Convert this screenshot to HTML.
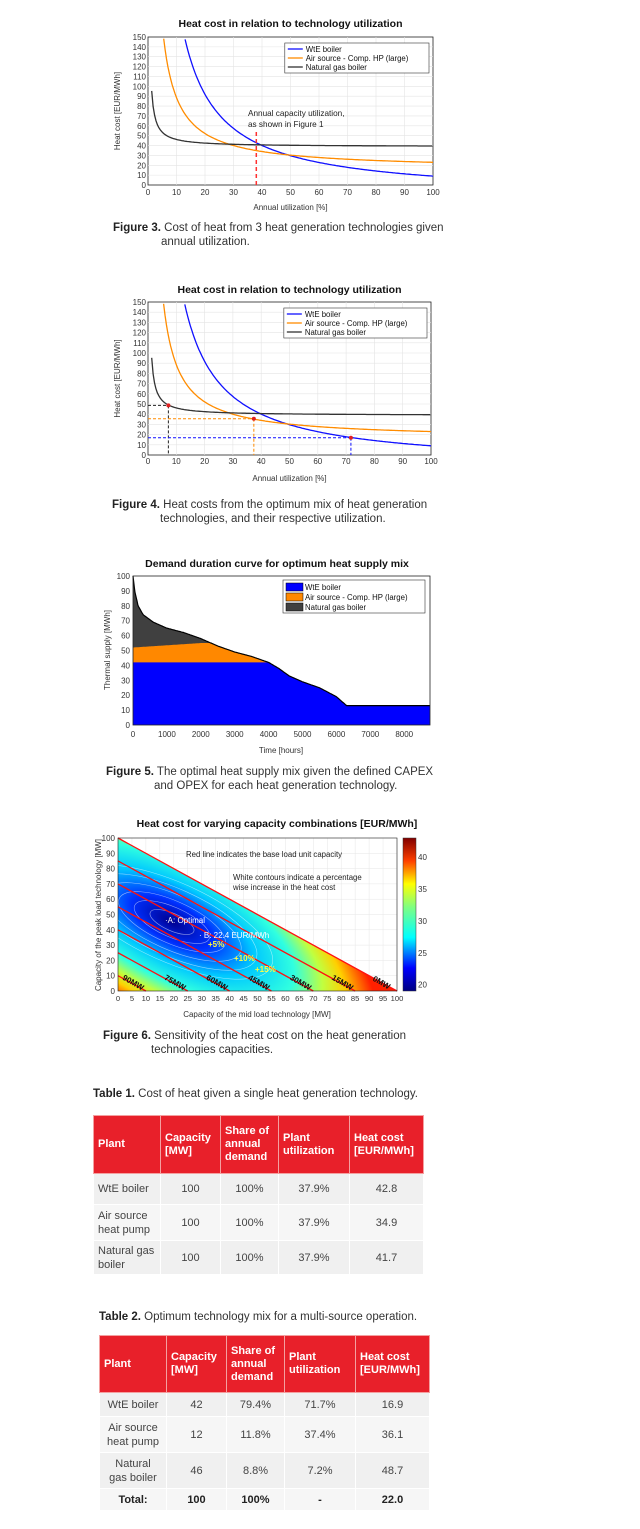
<!DOCTYPE html>
<html><head><meta charset="utf-8"><style>
body{margin:0;background:#fff;width:640px;height:1529px;position:relative;font-family:"Liberation Sans",sans-serif;overflow:hidden}
.cap{position:absolute;font-size:11.5px;color:#333;line-height:14px}
.cap b{color:#222}
table{position:absolute;border-collapse:collapse;font-size:11px;color:#444;table-layout:fixed}
th{background:#e8202a;color:#fff;text-align:left;font-weight:bold;border:1px solid #f4a0a0;padding:0 4px;line-height:13px;white-space:nowrap}
td{border:1px solid #fff;text-align:center;padding:0 3px;line-height:14px;white-space:nowrap}
td.l{text-align:left;padding-left:4px}
tr.a td{background:#f0f0f0}tr.b td{background:#f6f6f6}
</style></head><body>
<svg id="s" width="640" height="1529" style="position:absolute;left:0;top:0" font-family="Liberation Sans, sans-serif"></svg>
<div class="cap" style="left:113px;top:221px"><b>Figure 3.</b> Cost of heat from 3 heat generation technologies given<br><span style="padding-left:48px">annual utilization.</span></div>
<div class="cap" style="left:112px;top:498px"><b>Figure 4.</b> Heat costs from the optimum mix of heat generation<br><span style="padding-left:48px">technologies, and their respective utilization.</span></div>
<div class="cap" style="left:106px;top:765px"><b>Figure 5.</b> The optimal heat supply mix given the defined CAPEX<br><span style="padding-left:48px">and OPEX for each heat generation technology.</span></div>
<div class="cap" style="left:103px;top:1029px"><b>Figure 6.</b> Sensitivity of the heat cost on the heat generation<br><span style="padding-left:48px">technologies capacities.</span></div>
<div class="cap" style="left:93px;top:1087px"><b>Table 1.</b> Cost of heat given a single heat generation technology.</div>
<div class="cap" style="left:99px;top:1310px"><b>Table 2.</b> Optimum technology mix for a multi-source operation.</div>
<table style="left:93px;top:1115px;width:330px">
<colgroup><col style="width:67px"><col style="width:60px"><col style="width:58px"><col style="width:71px"><col style="width:74px"></colgroup>
<tr style="height:58px"><th>Plant</th><th>Capacity<br>[MW]</th><th>Share of<br>annual<br>demand</th><th>Plant<br>utilization</th><th>Heat cost<br>[EUR/MWh]</th></tr>
<tr class="a" style="height:31px"><td class="l">WtE boiler</td><td>100</td><td>100%</td><td>37.9%</td><td>42.8</td></tr>
<tr class="b" style="height:36px"><td class="l">Air source<br>heat pump</td><td>100</td><td>100%</td><td>37.9%</td><td>34.9</td></tr>
<tr class="a" style="height:34px"><td class="l">Natural gas<br>boiler</td><td>100</td><td>100%</td><td>37.9%</td><td>41.7</td></tr>
</table>
<table style="left:99px;top:1335px;width:330px">
<colgroup><col style="width:67px"><col style="width:60px"><col style="width:58px"><col style="width:71px"><col style="width:74px"></colgroup>
<tr style="height:57px"><th>Plant</th><th>Capacity<br>[MW]</th><th>Share of<br>annual<br>demand</th><th>Plant<br>utilization</th><th>Heat cost<br>[EUR/MWh]</th></tr>
<tr class="a" style="height:24px"><td>WtE boiler</td><td>42</td><td>79.4%</td><td>71.7%</td><td>16.9</td></tr>
<tr class="b" style="height:36px"><td>Air source<br>heat pump</td><td>12</td><td>11.8%</td><td>37.4%</td><td>36.1</td></tr>
<tr class="a" style="height:36px"><td>Natural<br>gas boiler</td><td>46</td><td>8.8%</td><td>7.2%</td><td>48.7</td></tr>
<tr class="b" style="height:22px;font-weight:bold;color:#222"><td>Total:</td><td>100</td><td>100%</td><td>-</td><td>22.0</td></tr>
</table>
<script>
var s='';
function T(x,y,t,o){o=o||{};s+='<text x="'+x+'" y="'+y+'" font-size="'+(o.fs||8)+'" fill="'+(o.c||'#333')+'" text-anchor="'+(o.a||'middle')+'"'+(o.w?' font-weight="bold"':'')+(o.tr?' transform="'+o.tr+'"':'')+'>'+t+'</text>';}
function L(x1,y1,x2,y2,c,w,d){s+='<line x1="'+x1+'" y1="'+y1+'" x2="'+x2+'" y2="'+y2+'" stroke="'+c+'" stroke-width="'+(w||1)+'"'+(d?' stroke-dasharray="'+d+'"':'')+'/>';}
function costPlot(x0,x1,y0,y1,title,ty,xl,xt){
 var W=x1-x0,H=y1-y0;
 T((x0+x1)/2,ty,title,{fs:10.5,w:1,c:'#111'});
 s+='<rect x="'+x0+'" y="'+y0+'" width="'+W+'" height="'+H+'" fill="#fff" stroke="#222" stroke-width="0.8"/>';
 for(var i=0;i<=15;i++){var y=y1-i*H/15;if(i>0&&i<15)L(x0,y,x1,y,'#e4e4e4',0.6);T(x0-2,y+3,i*10,{a:'end',fs:8});}
 for(var j=0;j<=10;j++){var x=x0+j*W/10;if(j>0&&j<10)L(x,y0,x,y1,'#e4e4e4',0.6);T(x,xl,j*10,{fs:8});}
 T((x0+x1)/2,xt,'Annual utilization [%]',{fs:8});
 T(0,0,'Heat cost [EUR/MWh]',{fs:8,tr:'translate('+(x0-28)+','+((y0+y1)/2)+') rotate(-90)'});
 function curve(a,b,us,c){var p=[];for(var u=us;u<=100;u+=0.5){var v=a/u+b;if(v>152)continue;p.push((x0+u*W/100).toFixed(1)+','+(y1-v*H/150).toFixed(1));}s+='<polyline points="'+p.join(' ')+'" fill="none" stroke="'+c+'" stroke-width="1.3"/>';}
 s+='<clipPath id="c'+y0+'"><rect x="'+x0+'" y="'+y0+'" width="'+W+'" height="'+H+'"/></clipPath><g clip-path="url(#c'+y0+')">';
 curve(2071,-11.7,10,'#1010ff');curve(729,15.7,4,'#ff8c00');curve(73.5,38.8,1.3,'#333');s+='</g>';
 var lx=x0+0.48*W,ly=y0+6;
 s+='<rect x="'+lx+'" y="'+ly+'" width="'+(x1-4-lx)+'" height="30" fill="#fff" stroke="#333" stroke-width="0.6"/>';
 var n=['WtE boiler','Air source - Comp. HP (large)','Natural gas boiler'],cc=['#1010ff','#ff8c00','#333'];
 for(var k=0;k<3;k++){var yy=ly+6+k*9;L(lx+3,yy,lx+18,yy,cc[k],1.3);T(lx+21,yy+3,n[k],{a:'start',fs:7.8,c:'#111'});}
 return function(u,v){return [x0+u*W/100,y1-v*H/150];};
}
var f=costPlot(148,433,37,185,'Heat cost in relation to technology utilization',27,195,210);
var p=f(38,0),q=f(38,55);L(p[0],p[1],q[0],q[1],'#ff3030',1.5,'4,3');
T(248,116,'Annual capacity utilization,',{a:'start',fs:8.2,c:'#222'});T(248,127,'as shown in Figure 1',{a:'start',fs:8.2,c:'#222'});
var g=costPlot(148,431,302,455,'Heat cost in relation to technology utilization',293,464,481);
[[7.2,48.7,'#222'],[37.4,35.5,'#ff8c00'],[71.7,16.9,'#1010ff']].forEach(function(d){var a=g(d[0],d[1]),b=g(0,d[1]),c=g(d[0],0);L(b[0],a[1],a[0],a[1],d[2],1,'3,2');L(a[0],a[1],c[0],c[1],d[2],1,'3,2');s+='<circle cx="'+a[0]+'" cy="'+a[1]+'" r="2" fill="#e02020"/>';});
(function(){var x0=133,x1=430,y0=576,y1=725,W=x1-x0,H=y1-y0;
T(277,567,'Demand duration curve for optimum heat supply mix',{fs:10.5,w:1,c:'#111'});
function X(h){return x0+h/8760*W;}function Y(v){return y1-v*H/100;}
var D=[[0,100],[50,90],[150,80],[300,74],[600,69],[1000,65],[1500,62],[2000,58],[2500,53],[3000,49],[3500,46],[4000,42],[4300,38],[4600,33],[5000,29],[5500,25],[6000,19],[6300,13],[8760,13]];
function dem(h){for(var i=1;i<D.length;i++)if(h<=D[i][0]){var t=(h-D[i-1][0])/(D[i][0]-D[i-1][0]);return D[i-1][1]+t*(D[i][1]-D[i-1][1]);}return 13;}
function hpTop(h){return 52+3*Math.min(h,2000)/2000;}
var tot=[],wt=[],hp=[];
for(var h=0;h<=8760;h+=20){var d=dem(h);tot.push(X(h).toFixed(1)+','+Y(d).toFixed(1));wt.push(X(h).toFixed(1)+','+Y(Math.min(d,42)).toFixed(1));hp.push(X(h).toFixed(1)+','+Y(Math.min(d,hpTop(h))).toFixed(1));}
s+='<rect x="'+x0+'" y="'+y0+'" width="'+W+'" height="'+H+'" fill="#fff"/>';
s+='<polygon points="'+X(0)+','+Y(0)+' '+tot.join(' ')+' '+X(8760)+','+Y(0)+'" fill="#404040"/>';
s+='<polygon points="'+X(0)+','+Y(0)+' '+hp.join(' ')+' '+X(8760)+','+Y(0)+'" fill="#ff8800"/>';
s+='<polygon points="'+X(0)+','+Y(0)+' '+wt.join(' ')+' '+X(8760)+','+Y(0)+'" fill="#0000ff"/>';
s+='<polyline points="'+tot.join(' ')+'" fill="none" stroke="#000" stroke-width="1.2"/>';
s+='<rect x="'+x0+'" y="'+y0+'" width="'+W+'" height="'+H+'" fill="none" stroke="#222" stroke-width="0.8"/>';
for(var i=0;i<=10;i++)T(x0-3,Y(i*10)+3,i*10,{a:'end',fs:8});
for(var j=0;j<=8;j++)T(X(j*1000),737,j*1000,{fs:8});
T(281,753,'Time [hours]',{fs:8});
T(0,0,'Thermal supply [MWh]',{fs:8,tr:'translate(110,650) rotate(-90)'});
var lx=283,ly=580;s+='<rect x="'+lx+'" y="'+ly+'" width="142" height="33" fill="#fff" stroke="#333" stroke-width="0.6"/>';
var n=['WtE boiler','Air source - Comp. HP (large)','Natural gas boiler'],cc=['#0000ff','#ff8800','#404040'];
for(var k=0;k<3;k++){var yy=ly+3+k*10;s+='<rect x="'+(lx+3)+'" y="'+yy+'" width="17" height="8" fill="'+cc[k]+'" stroke="#000" stroke-width="0.5"/>';T(lx+22,yy+7,n[k],{a:'start',fs:7.8,c:'#111'});}
})();
(function(){var x0=118,x1=397,y0=838,y1=991,W=x1-x0,H=y1-y0;
T(277,827,'Heat cost for varying capacity combinations [EUR/MWh]',{fs:10.5,w:1,c:'#111'});
function X(v){return x0+v*W/100;}function Y(v){return y1-v*H/100;}
s+='<defs><radialGradient id="hg" gradientUnits="userSpaceOnUse" cx="172" cy="922" r="150" gradientTransform="translate(172,922) rotate(28) scale(1.5,0.62) translate(-172,-922)"><stop offset="0" stop-color="#000090"/><stop offset="0.2" stop-color="#0030ff"/><stop offset="0.4" stop-color="#00c8ff"/><stop offset="0.6" stop-color="#30ffe0"/><stop offset="0.74" stop-color="#c0ff40"/><stop offset="0.85" stop-color="#ffd000"/><stop offset="1" stop-color="#ff2000"/></radialGradient>';
s+='<linearGradient id="cb" x1="0" y1="1" x2="0" y2="0"><stop offset="0" stop-color="#000080"/><stop offset="0.15" stop-color="#0000ff"/><stop offset="0.35" stop-color="#00ffff"/><stop offset="0.55" stop-color="#80ff80"/><stop offset="0.7" stop-color="#ffff00"/><stop offset="0.85" stop-color="#ff4000"/><stop offset="1" stop-color="#800000"/></linearGradient>';
s+='<clipPath id="tri"><polygon points="'+X(0)+','+Y(0)+' '+X(0)+','+Y(100)+' '+X(100)+','+Y(0)+'"/></clipPath></defs>';
for(var i=0;i<=20;i++){var x=X(i*5);L(x,y0,x,y1,'#e6e6e6',0.5);}
for(var i=0;i<=10;i++){var y=Y(i*10);L(x0,y,x1,y,'#e6e6e6',0.5);}
s+='<g clip-path="url(#tri)"><rect x="'+x0+'" y="'+y0+'" width="'+W+'" height="'+H+'" fill="url(#hg)"/>';
[14,24,34,44,54,64].forEach(function(r){s+='<ellipse cx="172" cy="922" rx="'+(r*1.7)+'" ry="'+(r*0.62)+'" transform="rotate(24 172 922)" fill="none" stroke="#fff" stroke-opacity="0.55" stroke-width="0.6"/>';});
s+='</g>';
[100,85,70,55,40,25,10].forEach(function(c){L(X(0),Y(c),X(c),Y(0),'#ff1010',1.3);});
s+='<rect x="'+x0+'" y="'+y0+'" width="'+W+'" height="'+H+'" fill="none" stroke="#222" stroke-width="0.6"/>';
for(var i=0;i<=10;i++)T(x0-3,Y(i*10)+3,i*10,{a:'end',fs:8});
for(var j=0;j<=20;j++)T(X(j*5),1001,j*5,{fs:7.6});
T(257,1017,'Capacity of the mid load technology [MW]',{fs:8});
T(0,0,'Capacity of the peak load technology [MW]',{fs:8,tr:'translate(101,915) rotate(-90)'});
T(186,857,'Red line indicates the base load unit capacity',{a:'start',fs:7.8,c:'#222'});
T(233,880,'White contours indicate a percentage',{a:'start',fs:7.8,c:'#222'});
T(233,890,'wise increase in the heat cost',{a:'start',fs:7.8,c:'#222'});
T(165,923,'·A: Optimal',{a:'start',fs:8,c:'#fff'});
T(199,938,'· B: 22.4 EUR/MWh',{a:'start',fs:8,c:'#fff'});
T(208,947,'+5%',{a:'start',fs:8,c:'#ffff40',w:1});
T(234,961,'+10%',{a:'start',fs:8,c:'#ffff40',w:1});
T(255,972,'+15%',{a:'start',fs:8,c:'#ffff40',w:1});
[['90MW',5,4],['75MW',20,4],['60MW',35,4],['45MW',50,4],['30MW',65,4],['15MW',80,4],['0MW',94,4]].forEach(function(d){T(X(d[1]),Y(d[2]),d[0],{fs:8,w:1,c:'#111',tr:'rotate(30 '+X(d[1])+' '+Y(d[2])+')'});});
s+='<rect x="403" y="838" width="13" height="153" fill="url(#cb)" stroke="#333" stroke-width="0.5"/>';
[[40,42],[35,35],[30,28],[25,21],[20,14]].forEach(function(d){var y=991-(d[0]-19)/24*153;T(418,y+3,d[0],{a:'start',fs:8});});
})();
document.getElementById('s').innerHTML=s;
</script>
</body></html>
